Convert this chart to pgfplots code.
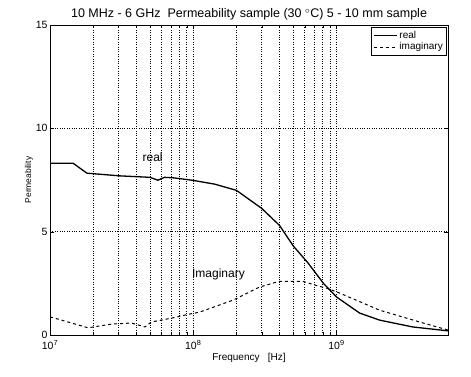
\documentclass[border=0pt]{standalone}
\usepackage{pgfplots}
\pgfplotsset{compat=1.18}
\usepackage{fontspec}
\setmainfont{Liberation Sans}
\begin{document}
\begin{tikzpicture}
\begin{axis}[
  scale only axis,
  width=398pt, height=310pt,
  xmode=log,
  xmin=1e7, xmax=6e9,
  ymin=0, ymax=15,
  ytick={0,5,10,15},
  yticklabels={0,5,10,15},
  xtick={1e7,1e8,1e9},
  xticklabels={10\textsuperscript{7},10\textsuperscript{8},10\textsuperscript{9}},
  grid=both,
  major grid style={black, dotted, line width=0.8pt},
  minor grid style={black, dotted, line width=0.8pt},
  minor y tick num=0,
  axis line style={black, line width=0.8pt},
  tick style={black},
  tick align=inside,
  every tick label/.append style={font=\fontsize{10.5}{12}\selectfont},
  xticklabel style={yshift=-2pt},
  yticklabel style={xshift=1pt},
  title={10 MHz - 6 GHz\ \ Permeability sample (30 $^{\circ}$C) 5 - 10 mm sample},
  title style={font=\fontsize{12.5}{14}\selectfont, yshift=-5pt},
  xlabel={Frequency\ \ \ [Hz]},
  ylabel={Permeability},
  xlabel style={font=\fontsize{10}{12}\selectfont, yshift=3pt},
  ylabel style={font=\fontsize{8.5}{10}\selectfont, yshift=-4pt},
  legend style={at={(0.998,0.995)}, anchor=north east, draw=black, line width=0.8pt, font=\fontsize{10}{11}\selectfont, row sep=-1pt, inner sep=2pt},
  legend image code/.code={\draw[#1] plot coordinates {(0cm,0cm) (0.8cm,0cm)};},
  legend cell align=left,
]
\addplot[black, line width=1.3pt] coordinates {
(1e7,8.31) (1.45e7,8.31) (1.81e7,7.83) (3.08e7,7.7) (4.98e7,7.63) (5.66e7,7.49) (6.3e7,7.63) (7.4e7,7.6) (9.8e7,7.49) (1.41e8,7.3) (2.0e8,7.0) (3.0e8,6.13) (4.0e8,5.3) (5.0e8,4.3) (6.3e8,3.5) (8.1e8,2.5) (1.0e9,1.84) (1.45e9,1.06) (2.0e9,0.72) (3.4e9,0.39) (6e9,0.2)
};
\addlegendentry{real}
\addplot[black, line width=1pt, dashed] coordinates {
(1e7,0.88) (1.84e7,0.35) (2.7e7,0.53) (3.7e7,0.58) (4.6e7,0.39) (5.1e7,0.63) (7.1e7,0.82) (9.2e7,1.0) (1.1e8,1.1) (1.9e8,1.69) (2.9e8,2.32) (4.0e8,2.6) (5.8e8,2.6) (7.2e8,2.4) (8.5e8,2.27) (1.05e9,2.03) (2.0e9,1.2) (3.8e9,0.63) (6e9,0.24)
};
\addlegendentry{imaginary}
\node[font=\fontsize{12}{14}\selectfont] at (axis cs:5.2e7,8.6) {real};
\node[font=\fontsize{12}{14}\selectfont] at (axis cs:1.5e8,2.95) {Imaginary};
\end{axis}
\path (current axis.south west) ++(-50pt,-41pt) coordinate (bbsw);
\path (current axis.north east) ++(23pt,25pt) coordinate (bbne);
\path (bbsw) rectangle (bbne);
\end{tikzpicture}
\end{document}
